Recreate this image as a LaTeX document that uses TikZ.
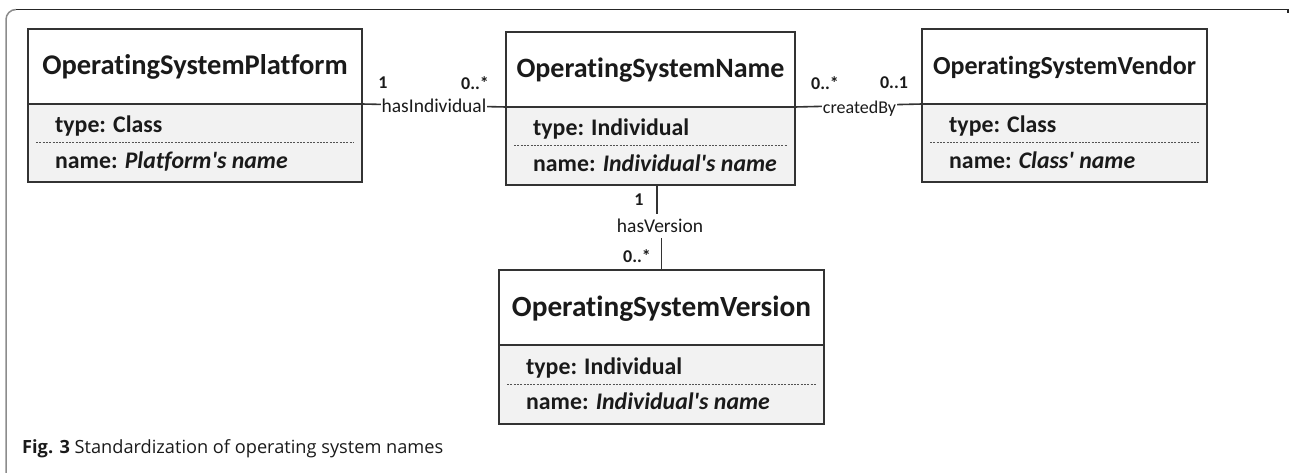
\documentclass[tikz,border=0pt]{standalone}
\usepackage{fontspec}
\newfontfamily\boxfont{Carlito}[Ligatures=NoCommon]
\newfontfamily\capfont{Open Sans}[Ligatures=NoCommon]
\usetikzlibrary{calc}
\definecolor{boxline}{HTML}{333333}
\definecolor{bodyfill}{HTML}{F2F2F2}
\definecolor{ink}{HTML}{1A1A1A}
\tikzset{
 hdr/.style={draw=boxline, line width=1.6pt, fill=white, inner sep=0pt, outer sep=0pt, anchor=north west},
 bdy/.style={draw=boxline, line width=1.6pt, fill=bodyfill, inner sep=0pt, outer sep=0pt, anchor=north west},
 ttl/.style={font=\boxfont\bfseries\fontsize{28}{30}\selectfont, text=ink, inner sep=0pt, anchor=base},
 attr/.style={font=\boxfont\bfseries\fontsize{23.8}{25}\selectfont, text=ink, inner sep=0pt, anchor=base west},
 sepline/.style={draw=boxline!85, line width=1pt, dash pattern=on 2pt off 1.3pt},
 lbl/.style={font=\boxfont\fontsize{19.5}{21}\selectfont, text=ink, fill=white, inner sep=1pt},
 mult/.style={font=\boxfont\bfseries\fontsize{18}{20}\selectfont, text=ink, inner sep=0pt},
 conn/.style={draw=boxline, line width=1.6pt},
}
\newcommand\umlclass[9]{%
 \node[hdr, minimum width={(#3-#2)*1pt}, minimum height={(#5-#4)*1pt}] (#1) at (#2,-#4) {};
 \node[bdy, minimum width={(#3-#2)*1pt}, minimum height={(#6-#5)*1pt}] (#1b) at (#2,-#5) {};
 \node[ttl] (#1t) at ($(#1.north)+(0,-46)$) {#7};
 \draw[sepline] ($(#1b.west)+(8,0)$) -- ($(#1b.east)+(-8,0)$);
 \node[attr] (#1ty) at ($(#1b.north west)+(27,-29)$) {type: #8};
 \node[attr] (#1nm) at ($(#1b.north west)+(27,-64.5)$) {name: \textit{#9}};
}
\begin{document}
\begin{tikzpicture}[x=1pt,y=1pt]
\useasboundingbox (0,0) rectangle (1289,-473);
% frame
\draw[line width=1.5pt, draw=black!45] (6,-473) -- (6,-19.5) arc[start angle=180, end angle=90, radius=10];
\draw[line width=1.3pt, draw=black!85] (16,-9.5) -- (1288,-9.5) -- (1288,-13);
% classes
\umlclass{plat}{28}{362}{29}{104}{182}{\fontsize{28.5}{30}\selectfont OperatingSystemPlatform}{Class}{Platform's name}
\umlclass{name}{506}{795}{32}{107}{185}{OperatingSystemName}{Individual}{Individual's name}
\umlclass{vend}{922}{1207}{29}{104}{182}{\fontsize{26}{28}\selectfont OperatingSystemVendor}{Class}{Class' name}
\umlclass{vers}{499}{824}{270}{345}{424}{\fontsize{29.3}{31}\selectfont OperatingSystemVersion}{Individual}{Individual's name}
% hasIndividual
\draw[conn] (plat.south east) -- node[lbl] (hi) {hasIndividual} (name.south west);
\node[mult] (m1) at (383,-83) {1};
\node[mult] (m2) at (475,-83) {0..*};
% createdBy
\draw[conn] (name.south east) -- (vend.south west);
\node[lbl, anchor=base, font=\boxfont\fontsize{18}{20}\selectfont] (cb) at (859.5,-114) {createdBy};
\node[mult] (m3) at (825,-83) {0..*};
\node[mult] (m4) at (894,-83) {0..1};
% hasVersion
\node[lbl, outer sep=4pt] (hv) at (660,-226) {hasVersion};
\coordinate (hvtop) at ([xshift=6.2pt]nameb.south);
\draw[conn] (hvtop) -- (hvtop |- hv.north);
\draw[conn] (vers.north) -- (vers.north |- hv.south);
\node[mult] (m5) at (639,-200) {1};
\node[mult] (m6) at (637,-256) {0..*};
% caption
\node[anchor=base west, inner sep=0pt, font=\capfont\fontsize{18.2}{20}\selectfont, text=ink] (cap) at (22,-453) {\textbf{Fig. 3} Standardization of operating system names};
\end{tikzpicture}
\end{document}
